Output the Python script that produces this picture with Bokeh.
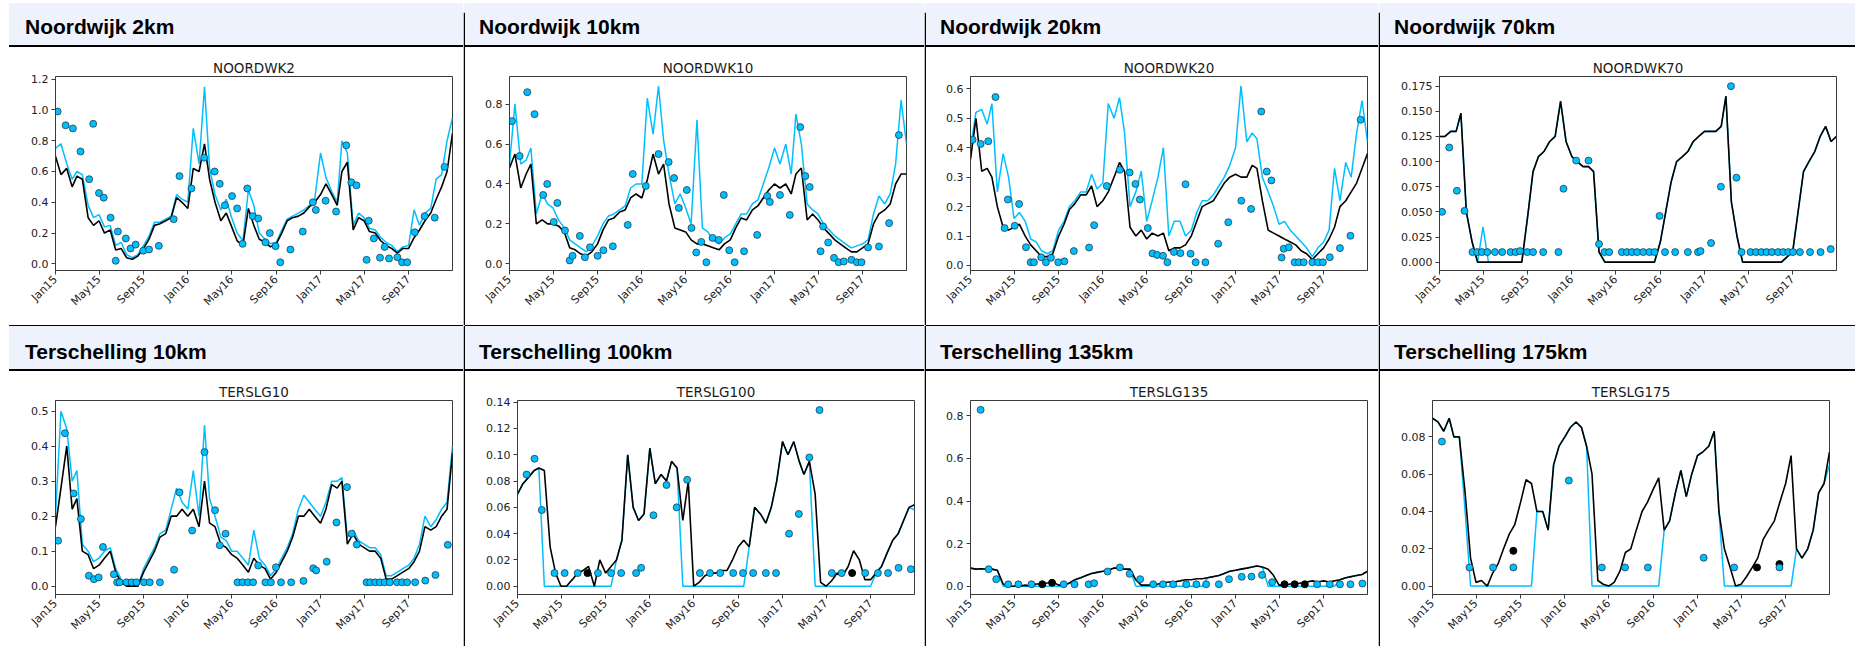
import math
import pandas as pd
from bokeh.plotting import figure
from bokeh.layouts import row, column
from bokeh.models import Range1d, FixedTicker, DatetimeTickFormatter, PrintfTickFormatter, Div
from bokeh.embed import file_html
from bokeh.resources import INLINE

BLUE = "#00BFFF"
BAND = "#EEF2FC"

# Sampling dates of the two model series: 1st and 16th of every month
HALF_MONTHS = [f"{y}-{m:02d}-{d:02d}" for y in (2015, 2016, 2017)
               for m in range(1, 13) for d in (1, 16)] + ["2017-12-31"]
MONTH_TICKS = ["2015-01-01", "2015-05-01", "2015-09-01", "2016-01-01", "2016-05-01",
               "2016-09-01", "2017-01-01", "2017-05-01", "2017-09-01"]
X_START, X_END = "2015-01-01", "2017-12-31"

STATIONS = ["NOORDWK2", "NOORDWK10", "NOORDWK20", "NOORDWK70",
            "TERSLG10", "TERSLG100", "TERSLG135", "TERSLG175"]
HEADINGS = ["Noordwijk 2km", "Noordwijk 10km", "Noordwijk 20km", "Noordwijk 70km",
            "Terschelling 10km", "Terschelling 100km", "Terschelling 135km", "Terschelling 175km"]

# ---------------- NOORDWK2 ----------------
nw2_black = [
    0.70, 0.58, 0.62, 0.50, 0.57, 0.55, 0.30, 0.25, 0.28, 0.20, 0.22, 0.09,
    0.10, 0.04, 0.03, 0.05, 0.10, 0.16, 0.25, 0.26, 0.28, 0.30, 0.43, 0.40,
    0.36, 0.62, 0.60, 0.78, 0.55, 0.40, 0.28, 0.33, 0.24, 0.15, 0.12, 0.36,
    0.25, 0.16, 0.14, 0.11, 0.13, 0.20, 0.28, 0.30, 0.31, 0.33, 0.37, 0.40,
    0.45, 0.52, 0.45, 0.38, 0.60, 0.66, 0.22, 0.30, 0.28, 0.21, 0.20, 0.15,
    0.12, 0.10, 0.07, 0.10, 0.10, 0.17, 0.22, 0.28, 0.33, 0.42, 0.50, 0.60,
    0.85]
nw2_blue = [
    0.75, 0.78, 0.65, 0.55, 0.60, 0.58, 0.38, 0.30, 0.32, 0.24, 0.25, 0.12,
    0.14, 0.06, 0.04, 0.06, 0.12, 0.18, 0.27, 0.27, 0.29, 0.31, 0.45, 0.42,
    0.40, 0.88, 0.65, 1.15, 0.62, 0.45, 0.35, 0.42, 0.30, 0.20, 0.15, 0.48,
    0.38, 0.20, 0.16, 0.13, 0.14, 0.22, 0.29, 0.31, 0.33, 0.35, 0.38, 0.42,
    0.72, 0.56, 0.47, 0.40, 0.80, 0.72, 0.25, 0.33, 0.30, 0.23, 0.22, 0.17,
    0.14, 0.12, 0.08, 0.11, 0.12, 0.35, 0.25, 0.33, 0.36, 0.55, 0.58, 0.80,
    0.95]
nw2_obs_dates = [
    "2015-01-07", "2015-01-29", "2015-02-18", "2015-03-11", "2015-04-04", "2015-04-15",
    "2015-05-01", "2015-05-14", "2015-06-02", "2015-06-16", "2015-06-22", "2015-07-14",
    "2015-07-27", "2015-08-10", "2015-08-31", "2015-09-16", "2015-10-13", "2015-11-23",
    "2015-12-09", "2016-01-11", "2016-02-15", "2016-03-15", "2016-03-29", "2016-04-12",
    "2016-05-02", "2016-05-16", "2016-05-31", "2016-06-13", "2016-06-28", "2016-07-13",
    "2016-08-02", "2016-08-14", "2016-08-30", "2016-09-12", "2016-10-10", "2016-11-13",
    "2016-12-11", "2016-12-19", "2017-01-15", "2017-02-13", "2017-03-13", "2017-03-27",
    "2017-04-10", "2017-05-08", "2017-05-14", "2017-05-28", "2017-06-14", "2017-06-27",
    "2017-07-09", "2017-08-01", "2017-08-14", "2017-08-28", "2017-09-18", "2017-10-15",
    "2017-11-12", "2017-12-09"]
nw2_obs = [
    0.99, 0.90, 0.88, 0.73, 0.55, 0.91, 0.46, 0.43, 0.30, 0.02, 0.21, 0.165,
    0.10, 0.125, 0.085, 0.093, 0.117, 0.29, 0.57, 0.49, 0.69, 0.60, 0.52, 0.38,
    0.44, 0.36, 0.13, 0.49, 0.31, 0.295, 0.14, 0.20, 0.115, 0.01, 0.093, 0.21,
    0.40, 0.35, 0.41, 0.34, 0.77, 0.53, 0.51, 0.026, 0.28, 0.165, 0.04, 0.11,
    0.035, 0.043, 0.01, 0.01, 0.205, 0.31, 0.30, 0.63]

# ---------------- NOORDWK10 ----------------
nw10_black = [
    0.48, 0.55, 0.38, 0.45, 0.50, 0.20, 0.22, 0.20, 0.20, 0.19, 0.16, 0.08,
    0.07, 0.05, 0.04, 0.06, 0.10, 0.17, 0.22, 0.23, 0.26, 0.27, 0.33, 0.35,
    0.33, 0.42, 0.55, 0.45, 0.50, 0.30, 0.18, 0.17, 0.16, 0.12, 0.10, 0.10,
    0.09, 0.08, 0.07, 0.10, 0.12, 0.18, 0.23, 0.22, 0.27, 0.29, 0.33, 0.37,
    0.40, 0.38, 0.40, 0.35, 0.45, 0.48, 0.22, 0.25, 0.22, 0.18, 0.15, 0.12,
    0.10, 0.08, 0.06, 0.06, 0.08, 0.10, 0.20, 0.25, 0.27, 0.30, 0.40, 0.45,
    0.45]
nw10_blue = [
    0.50, 0.80, 0.50, 0.52, 0.58, 0.25, 0.35, 0.30, 0.28, 0.22, 0.18, 0.12,
    0.10, 0.08, 0.06, 0.09, 0.14, 0.20, 0.24, 0.25, 0.27, 0.29, 0.38, 0.40,
    0.40, 0.83, 0.65, 0.89, 0.62, 0.45, 0.30, 0.35, 0.28, 0.20, 0.72, 0.18,
    0.16, 0.12, 0.10, 0.13, 0.15, 0.20, 0.25, 0.25, 0.30, 0.32, 0.40, 0.48,
    0.58, 0.50, 0.60, 0.45, 0.75, 0.60, 0.30, 0.27, 0.25, 0.20, 0.17, 0.14,
    0.12, 0.10, 0.08, 0.09, 0.10, 0.12, 0.25, 0.34, 0.30, 0.35, 0.50, 0.82,
    0.60]
nw10_obs_dates = [
    "2015-01-08", "2015-01-29", "2015-02-19", "2015-03-11", "2015-04-04", "2015-04-15",
    "2015-05-03", "2015-05-13", "2015-06-03", "2015-06-16", "2015-06-24", "2015-07-14",
    "2015-07-28", "2015-08-11", "2015-09-01", "2015-09-17", "2015-10-13", "2015-11-23",
    "2015-12-07", "2016-01-12", "2016-02-16", "2016-03-15", "2016-03-30", "2016-04-12",
    "2016-05-04", "2016-05-17", "2016-05-30", "2016-06-13", "2016-06-27", "2016-07-14",
    "2016-07-31", "2016-08-14", "2016-08-29", "2016-09-13", "2016-10-09", "2016-11-14",
    "2016-12-12", "2016-12-19", "2017-01-16", "2017-02-12", "2017-03-13", "2017-03-27",
    "2017-04-08", "2017-05-08", "2017-05-15", "2017-05-29", "2017-06-14", "2017-06-27",
    "2017-07-11", "2017-08-01", "2017-08-16", "2017-08-29", "2017-09-16", "2017-10-16",
    "2017-11-13", "2017-12-10"]
nw10_obs = [
    0.715, 0.54, 0.86, 0.75, 0.345, 0.40, 0.21, 0.305, 0.167, 0.017, 0.04, 0.14,
    0.033, 0.083, 0.04, 0.068, 0.088, 0.195, 0.45, 0.39, 0.55, 0.51, 0.43, 0.28,
    0.37, 0.18, 0.057, 0.11, 0.008, 0.13, 0.12, 0.345, 0.068, 0.008, 0.063, 0.145,
    0.34, 0.31, 0.345, 0.245, 0.685, 0.44, 0.385, 0.063, 0.187, 0.107, 0.03, 0.008,
    0.012, 0.02, 0.008, 0.008, 0.082, 0.087, 0.204, 0.645]

# ---------------- NOORDWK20 ----------------
nw20_black = [
    0.36, 0.50, 0.32, 0.33, 0.30, 0.20, 0.13, 0.12, 0.13, 0.14, 0.10, 0.07,
    0.05, 0.03, 0.03, 0.04, 0.10, 0.14, 0.19, 0.21, 0.24, 0.24, 0.27, 0.20,
    0.22, 0.25, 0.30, 0.35, 0.32, 0.13, 0.10, 0.12, 0.09, 0.11, 0.10, 0.11,
    0.05, 0.06, 0.06, 0.07, 0.10, 0.15, 0.20, 0.21, 0.22, 0.25, 0.28, 0.30,
    0.31, 0.30, 0.30, 0.34, 0.33, 0.22, 0.12, 0.11, 0.10, 0.09, 0.08, 0.07,
    0.05, 0.04, 0.02, 0.04, 0.06, 0.09, 0.13, 0.20, 0.22, 0.25, 0.28, 0.33,
    0.38]
nw20_blue = [
    0.40, 0.52, 0.53, 0.48, 0.55, 0.25, 0.38, 0.30, 0.16, 0.18, 0.15, 0.09,
    0.08, 0.05, 0.04, 0.05, 0.12, 0.15, 0.20, 0.22, 0.25, 0.25, 0.31, 0.26,
    0.28, 0.55, 0.50, 0.57, 0.45, 0.20, 0.25, 0.32, 0.15, 0.22, 0.30, 0.40,
    0.10, 0.15, 0.15, 0.10, 0.12, 0.18, 0.22, 0.22, 0.24, 0.27, 0.30, 0.34,
    0.40, 0.61, 0.42, 0.45, 0.43, 0.30, 0.25, 0.20, 0.14, 0.15, 0.12, 0.10,
    0.08, 0.06, 0.03, 0.06, 0.08, 0.12, 0.33, 0.22, 0.35, 0.30, 0.45, 0.56,
    0.42]
nw20_obs_dates = [
    "2015-01-07", "2015-01-29", "2015-02-19", "2015-03-11", "2015-04-05", "2015-04-14",
    "2015-05-03", "2015-05-15", "2015-06-03", "2015-06-16", "2015-06-25", "2015-07-15",
    "2015-07-28", "2015-08-11", "2015-08-31", "2015-09-17", "2015-10-13", "2015-11-24",
    "2015-12-08", "2016-01-12", "2016-02-17", "2016-03-15", "2016-03-31", "2016-04-12",
    "2016-05-04", "2016-05-17", "2016-05-30", "2016-06-15", "2016-06-27", "2016-07-15",
    "2016-08-02", "2016-08-16", "2016-08-30", "2016-09-13", "2016-10-10", "2016-11-14",
    "2016-12-12", "2017-01-17", "2017-02-13", "2017-03-13", "2017-03-28", "2017-04-10",
    "2017-05-08", "2017-05-14", "2017-05-28", "2017-06-13", "2017-06-25", "2017-07-08",
    "2017-08-01", "2017-08-17", "2017-08-30", "2017-09-18", "2017-10-16", "2017-11-14",
    "2017-12-12"]
nw20_obs = [
    0.427, 0.413, 0.422, 0.572, 0.127, 0.224, 0.135, 0.209, 0.062, 0.011, 0.011, 0.028,
    0.011, 0.026, 0.011, 0.014, 0.049, 0.061, 0.137, 0.27, 0.325, 0.316, 0.277, 0.224,
    0.127, 0.041, 0.036, 0.033, 0.011, 0.046, 0.042, 0.276, 0.04, 0.011, 0.011, 0.074,
    0.147, 0.22, 0.192, 0.523, 0.319, 0.289, 0.027, 0.057, 0.062, 0.011, 0.011, 0.011,
    0.011, 0.011, 0.011, 0.028, 0.059, 0.101, 0.495]

# ---------------- NOORDWK70 ----------------
nw70_black = [
    0.125, 0.125, 0.130, 0.130, 0.148, 0.050, 0.020, 0.000, 0.000, 0.000, 0.000, 0.000,
    0.000, 0.000, 0.000, 0.000, 0.045, 0.090, 0.105, 0.110, 0.120, 0.125, 0.160, 0.120,
    0.105, 0.100, 0.095, 0.095, 0.090, 0.010, 0.000, 0.000, 0.000, 0.000, 0.000, 0.000,
    0.000, 0.000, 0.000, 0.000, 0.020, 0.050, 0.080, 0.100, 0.105, 0.110, 0.120, 0.125,
    0.130, 0.130, 0.130, 0.135, 0.165, 0.060, 0.025, 0.000, 0.000, 0.000, 0.000, 0.000,
    0.000, 0.000, 0.000, 0.005, 0.010, 0.050, 0.090, 0.100, 0.110, 0.125, 0.135, 0.120,
    0.125]
nw70_blue = [
    0.125, 0.125, 0.130, 0.130, 0.148, 0.050, 0.020, 0.000, 0.035, 0.000, 0.000, 0.000,
    0.000, 0.000, 0.000, 0.000, 0.045, 0.090, 0.105, 0.110, 0.120, 0.125, 0.160, 0.120,
    0.105, 0.100, 0.095, 0.095, 0.090, 0.010, 0.000, 0.000, 0.000, 0.000, 0.000, 0.000,
    0.000, 0.000, 0.000, 0.000, 0.020, 0.050, 0.080, 0.100, 0.105, 0.110, 0.120, 0.125,
    0.130, 0.130, 0.130, 0.135, 0.165, 0.060, 0.025, 0.000, 0.000, 0.000, 0.000, 0.000,
    0.000, 0.000, 0.000, 0.005, 0.010, 0.050, 0.090, 0.100, 0.110, 0.125, 0.135, 0.120,
    0.125]
nw70_obs_dates = [
    "2015-01-08", "2015-01-28", "2015-02-18", "2015-03-11", "2015-04-02", "2015-04-15",
    "2015-04-28", "2015-05-13", "2015-06-03", "2015-06-23", "2015-07-16", "2015-07-30",
    "2015-08-11", "2015-08-31", "2015-09-16", "2015-10-14", "2015-11-25", "2015-12-09",
    "2016-01-13", "2016-02-16", "2016-03-16", "2016-03-31", "2016-04-13", "2016-05-18",
    "2016-06-01", "2016-06-15", "2016-06-29", "2016-07-16", "2016-08-02", "2016-08-16",
    "2016-08-30", "2016-09-14", "2016-10-12", "2016-11-16", "2016-12-14", "2016-12-21",
    "2017-01-19", "2017-02-15", "2017-03-15", "2017-03-30", "2017-04-13", "2017-05-08",
    "2017-05-23", "2017-06-07", "2017-06-21", "2017-07-06", "2017-07-23", "2017-08-06",
    "2017-08-20", "2017-09-02", "2017-09-21", "2017-10-19", "2017-11-17", "2017-12-15"]
nw70_obs = [
    0.050, 0.114, 0.071, 0.051, 0.010, 0.010, 0.010, 0.010, 0.010, 0.010, 0.010, 0.010,
    0.011, 0.010, 0.010, 0.010, 0.010, 0.073, 0.101, 0.101, 0.018, 0.010, 0.010, 0.010,
    0.010, 0.010, 0.010, 0.010, 0.010, 0.010, 0.046, 0.010, 0.010, 0.010, 0.010, 0.011,
    0.019, 0.075, 0.175, 0.084, 0.010, 0.010, 0.010, 0.010, 0.010, 0.010, 0.010, 0.010,
    0.010, 0.010, 0.010, 0.010, 0.010, 0.013]

# ---------------- TERSLG10 ----------------
t10_black = [
    0.17, 0.28, 0.40, 0.22, 0.25, 0.10, 0.09, 0.05, 0.06, 0.08, 0.10, 0.04,
    0.01, 0.00, 0.00, 0.00, 0.04, 0.07, 0.10, 0.14, 0.15, 0.20, 0.20, 0.22,
    0.20, 0.22, 0.17, 0.30, 0.18, 0.17, 0.12, 0.11, 0.09, 0.08, 0.06, 0.04,
    0.08, 0.06, 0.05, 0.02, 0.04, 0.07, 0.10, 0.14, 0.20, 0.20, 0.22, 0.20,
    0.18, 0.22, 0.29, 0.28, 0.30, 0.12, 0.15, 0.12, 0.11, 0.10, 0.10, 0.08,
    0.02, 0.02, 0.03, 0.04, 0.05, 0.07, 0.10, 0.17, 0.16, 0.17, 0.20, 0.22,
    0.38]
t10_blue = [
    0.20, 0.50, 0.45, 0.30, 0.33, 0.12, 0.10, 0.07, 0.08, 0.10, 0.11, 0.05,
    0.02, 0.00, 0.00, 0.00, 0.05, 0.08, 0.11, 0.15, 0.16, 0.22, 0.28, 0.24,
    0.22, 0.33, 0.20, 0.46, 0.25, 0.20, 0.14, 0.13, 0.10, 0.10, 0.08, 0.06,
    0.16, 0.08, 0.06, 0.03, 0.05, 0.08, 0.11, 0.15, 0.22, 0.26, 0.24, 0.22,
    0.20, 0.24, 0.30, 0.30, 0.31, 0.14, 0.16, 0.13, 0.12, 0.11, 0.11, 0.09,
    0.03, 0.03, 0.04, 0.05, 0.06, 0.08, 0.12, 0.20, 0.17, 0.19, 0.22, 0.24,
    0.40]
t10_obs_dates = [
    "2015-01-08", "2015-01-27", "2015-02-20", "2015-03-12", "2015-04-03", "2015-04-17",
    "2015-04-30", "2015-05-12", "2015-06-11", "2015-06-20", "2015-06-27", "2015-07-16",
    "2015-07-30", "2015-08-12", "2015-09-02", "2015-09-18", "2015-10-16", "2015-11-24",
    "2015-12-09", "2016-01-13", "2016-02-16", "2016-03-16", "2016-03-29", "2016-04-14",
    "2016-05-17", "2016-05-31", "2016-06-15", "2016-06-29", "2016-07-13", "2016-08-02",
    "2016-08-17", "2016-08-31", "2016-09-14", "2016-10-12", "2016-11-15", "2016-12-12",
    "2016-12-20", "2017-01-18", "2017-02-14", "2017-03-15", "2017-03-28", "2017-04-11",
    "2017-05-08", "2017-05-18", "2017-06-01", "2017-06-14", "2017-06-27", "2017-07-11",
    "2017-07-31", "2017-08-14", "2017-08-28", "2017-09-19", "2017-10-17", "2017-11-14",
    "2017-12-18"]
t10_obs = [
    0.13, 0.437, 0.265, 0.192, 0.03, 0.02, 0.025, 0.112, 0.034, 0.011, 0.011, 0.011,
    0.011, 0.011, 0.011, 0.011, 0.011, 0.047, 0.268, 0.159, 0.383, 0.217, 0.117, 0.15,
    0.011, 0.011, 0.011, 0.011, 0.059, 0.011, 0.011, 0.054, 0.011, 0.011, 0.015, 0.051,
    0.045, 0.07, 0.182, 0.283, 0.15, 0.119, 0.011, 0.011, 0.011, 0.011, 0.011, 0.011,
    0.011, 0.011, 0.011, 0.011, 0.016, 0.032, 0.118]

# ---------------- TERSLG100 ----------------
t100_black = [
    0.070, 0.078, 0.083, 0.088, 0.090, 0.088, 0.030, 0.010, 0.000, 0.000, 0.005, 0.010,
    0.012, 0.015, 0.000, 0.020, 0.010, 0.015, 0.020, 0.035, 0.100, 0.060, 0.050, 0.055,
    0.105, 0.078, 0.085, 0.080, 0.095, 0.090, 0.050, 0.080, 0.000, 0.003, 0.008, 0.010,
    0.010, 0.012, 0.012, 0.020, 0.030, 0.035, 0.030, 0.060, 0.055, 0.048, 0.060, 0.080,
    0.110, 0.100, 0.110, 0.095, 0.085, 0.095, 0.070, 0.003, 0.000, 0.004, 0.010, 0.008,
    0.015, 0.027, 0.020, 0.005, 0.005, 0.010, 0.015, 0.025, 0.035, 0.040, 0.050, 0.060,
    0.062]
t100_blue = [
    0.070, 0.078, 0.083, 0.088, 0.090, 0.000, 0.000, 0.000, 0.000, 0.000, 0.000, 0.000,
    0.000, 0.000, 0.000, 0.000, 0.000, 0.000, 0.020, 0.035, 0.100, 0.060, 0.050, 0.055,
    0.105, 0.078, 0.085, 0.080, 0.095, 0.090, 0.000, 0.000, 0.000, 0.000, 0.000, 0.000,
    0.000, 0.000, 0.000, 0.000, 0.000, 0.000, 0.030, 0.060, 0.055, 0.048, 0.060, 0.080,
    0.110, 0.100, 0.110, 0.095, 0.085, 0.095, 0.000, 0.000, 0.000, 0.000, 0.000, 0.000,
    0.000, 0.000, 0.000, 0.000, 0.000, 0.010, 0.015, 0.025, 0.035, 0.040, 0.050, 0.060,
    0.058]
t100_obs_dates = [
    "2015-01-26", "2015-02-17", "2015-03-09", "2015-04-13", "2015-05-11", "2015-06-16",
    "2015-08-11", "2015-09-16", "2015-10-14", "2015-11-24", "2015-12-08", "2016-01-11",
    "2016-02-16", "2016-03-15", "2016-04-13", "2016-05-18", "2016-06-15", "2016-07-13",
    "2016-08-18", "2016-09-14", "2016-10-12", "2016-11-16", "2016-12-14", "2017-01-19",
    "2017-02-15", "2017-03-16", "2017-04-13", "2017-05-17", "2017-06-13", "2017-08-17",
    "2017-09-21", "2017-10-19", "2017-11-17", "2017-12-21"]
t100_obs = [
    0.085, 0.097, 0.058, 0.010, 0.010, 0.010, 0.010, 0.010, 0.010, 0.010, 0.014, 0.054,
    0.077, 0.060, 0.081, 0.010, 0.010, 0.010, 0.010, 0.010, 0.010, 0.010, 0.010, 0.040,
    0.055, 0.098, 0.134, 0.010, 0.010, 0.010, 0.010, 0.010, 0.014, 0.013]
t100_dark_dates = ["2015-07-13", "2017-07-12"]
t100_dark = [0.010, 0.010]

# ---------------- TERSLG135 ----------------
t135_black = [
    0.085, 0.080, 0.082, 0.078, 0.080, 0.075, 0.010, 0.000, 0.000, 0.000, 0.005, 0.000,
    0.010, 0.010, 0.015, 0.020, 0.005, 0.005, 0.015, 0.030, 0.040, 0.050, 0.060, 0.065,
    0.070, 0.075, 0.085, 0.085, 0.080, 0.080, 0.030, 0.005, 0.005, 0.005, 0.010, 0.015,
    0.020, 0.020, 0.025, 0.030, 0.030, 0.035, 0.035, 0.040, 0.045, 0.050, 0.060, 0.070,
    0.075, 0.080, 0.085, 0.090, 0.095, 0.090, 0.080, 0.050, 0.005, 0.005, 0.010, 0.010,
    0.015, 0.020, 0.025, 0.020, 0.025, 0.020, 0.025, 0.030, 0.040, 0.045, 0.050, 0.055,
    0.070]
t135_blue = [
    0.085, 0.080, 0.082, 0.078, 0.080, 0.075, 0.000, 0.000, 0.000, 0.000, 0.000, 0.000,
    0.000, 0.000, 0.000, 0.000, 0.000, 0.000, 0.015, 0.030, 0.040, 0.050, 0.060, 0.065,
    0.070, 0.075, 0.085, 0.085, 0.080, 0.080, 0.000, 0.000, 0.000, 0.000, 0.000, 0.000,
    0.000, 0.000, 0.000, 0.000, 0.000, 0.000, 0.000, 0.040, 0.045, 0.050, 0.060, 0.070,
    0.075, 0.080, 0.085, 0.090, 0.095, 0.090, 0.000, 0.000, 0.000, 0.000, 0.000, 0.000,
    0.000, 0.000, 0.000, 0.000, 0.000, 0.000, 0.000, 0.030, 0.040, 0.045, 0.050, 0.055,
    0.070]
t135_obs_dates = [
    "2015-01-29", "2015-02-20", "2015-03-13", "2015-04-15", "2015-05-13", "2015-06-18",
    "2015-09-15", "2015-10-15", "2015-11-23", "2015-12-08", "2016-01-14", "2016-02-17",
    "2016-03-15", "2016-04-13", "2016-05-19", "2016-06-15", "2016-07-13", "2016-08-18",
    "2016-09-15", "2016-10-12", "2016-11-16", "2016-12-14", "2017-01-18", "2017-02-14",
    "2017-03-15", "2017-04-12", "2017-08-14", "2017-09-18", "2017-10-16", "2017-11-14",
    "2017-12-17"]
t135_obs = [
    0.828, 0.080, 0.033, 0.009, 0.009, 0.009, 0.009, 0.009, 0.009, 0.014, 0.069, 0.088,
    0.058, 0.033, 0.009, 0.009, 0.009, 0.009, 0.009, 0.009, 0.009, 0.033, 0.044, 0.045,
    0.053, 0.019, 0.009, 0.009, 0.009, 0.009, 0.0125]
t135_dark_dates = ["2015-07-18", "2015-08-14", "2017-05-16", "2017-06-13", "2017-07-11"]
t135_dark = [0.009, 0.016, 0.009, 0.009, 0.009]

# ---------------- TERSLG175 ----------------
t175_black = [
    0.090, 0.088, 0.083, 0.090, 0.080, 0.080, 0.050, 0.015, 0.002, 0.003, 0.000, 0.007,
    0.012, 0.020, 0.028, 0.033, 0.045, 0.057, 0.055, 0.040, 0.040, 0.030, 0.065, 0.075,
    0.080, 0.085, 0.088, 0.085, 0.075, 0.060, 0.003, 0.001, 0.000, 0.002, 0.008, 0.018,
    0.020, 0.030, 0.040, 0.045, 0.052, 0.058, 0.030, 0.035, 0.050, 0.062, 0.048, 0.060,
    0.070, 0.072, 0.075, 0.083, 0.040, 0.020, 0.010, 0.000, 0.001, 0.005, 0.010, 0.015,
    0.025, 0.030, 0.035, 0.045, 0.055, 0.070, 0.020, 0.015, 0.020, 0.030, 0.050, 0.055,
    0.072]
t175_blue = [
    0.090, 0.088, 0.083, 0.090, 0.080, 0.080, 0.040, 0.000, 0.000, 0.000, 0.000, 0.000,
    0.000, 0.000, 0.000, 0.000, 0.000, 0.000, 0.000, 0.040, 0.040, 0.030, 0.065, 0.075,
    0.080, 0.085, 0.088, 0.085, 0.075, 0.000, 0.000, 0.000, 0.000, 0.000, 0.000, 0.000,
    0.000, 0.000, 0.000, 0.000, 0.000, 0.000, 0.030, 0.035, 0.050, 0.062, 0.048, 0.060,
    0.070, 0.072, 0.075, 0.083, 0.040, 0.000, 0.000, 0.000, 0.000, 0.000, 0.000, 0.000,
    0.000, 0.000, 0.000, 0.000, 0.000, 0.000, 0.020, 0.015, 0.020, 0.030, 0.050, 0.055,
    0.065]
t175_obs_dates = [
    "2015-01-27", "2015-04-13", "2015-06-17", "2015-08-12", "2016-01-12", "2016-04-12",
    "2016-06-15", "2016-08-17", "2017-01-18", "2017-04-12", "2017-08-15"]
t175_obs = [0.0775, 0.010, 0.010, 0.010, 0.0566, 0.010, 0.010, 0.010, 0.0152, 0.010, 0.010]
t175_dark_dates = ["2015-08-12", "2017-06-14", "2017-08-15"]
t175_dark = [0.0189, 0.010, 0.0118]

# Y axis ticks per station
nw2_yticks = [0.0, 0.2, 0.4, 0.6, 0.8, 1.0, 1.2]
nw10_yticks = [0.0, 0.2, 0.4, 0.6, 0.8]
nw20_yticks = [0.0, 0.1, 0.2, 0.3, 0.4, 0.5, 0.6]
nw70_yticks = [0.0, 0.025, 0.05, 0.075, 0.1, 0.125, 0.15, 0.175]
t10_yticks = [0.0, 0.1, 0.2, 0.3, 0.4, 0.5]
t100_yticks = [0.0, 0.02, 0.04, 0.06, 0.08, 0.10, 0.12, 0.14]
t135_yticks = [0.0, 0.2, 0.4, 0.6, 0.8]
t175_yticks = [0.0, 0.02, 0.04, 0.06, 0.08]


def ms(d):
    return pd.Timestamp(d).value / 1e6


def dt(dates):
    return pd.to_datetime(dates).to_numpy()


def heading(text, w, h, x0, text_x, band_top, band_h, top_rule):
    """Light blue caption strip with a heavy rule underneath."""
    parts = [f'<div style="position:relative;width:{w}px;height:{h}px;overflow:hidden;'
             f'background:#ffffff;margin:0;padding:0;">']
    if top_rule:
        parts.append(f'<div style="position:absolute;left:{x0}px;top:0px;width:{w - x0}px;'
                     f'height:1px;background:#000000;"></div>')
    parts.append(f'<div style="position:absolute;left:{x0}px;top:{band_top}px;width:{w - x0}px;'
                 f'height:{band_h}px;background:{BAND};"></div>')
    parts.append(f'<div style="position:absolute;left:{x0}px;top:{band_top + band_h}px;'
                 f'width:{w - x0}px;height:2px;background:#000000;"></div>')
    parts.append(f'<div style="position:absolute;left:{text_x}px;top:15.5px;white-space:nowrap;'
                 f"font-family:'Liberation Sans',Arial,sans-serif;font-weight:bold;"
                 f'font-size:21px;line-height:21px;color:#000000;">{text}</div>')
    parts.append('</div>')
    return Div(text="".join(parts), width=w, height=h, styles={"margin": "0", "padding": "0"})


def divider(h, top_white, top_band):
    p = figure(width=2, height=h, x_range=Range1d(0, 2), y_range=Range1d(0, h),
               output_backend="svg", toolbar_location=None, min_border=0,
               x_axis_location=None, y_axis_location=None)
    p.grid.visible = False
    p.outline_line_color = None
    p.background_fill_color = "white"
    p.border_fill_color = "white"
    p.quad(left=[0], right=[2], bottom=[0], top=[h - top_white - top_band],
           fill_color="black", line_color=None)
    if top_band:
        p.quad(left=[0], right=[2], bottom=[h - top_white - top_band], top=[h - top_white],
               fill_color=BAND, line_color=None)
    return p


def station_chart(title, w, h, borders, yr, yticks, yfmt, black, blue,
                  obs_d, obs_v, dark_d=None, dark_v=None):
    left, right, top, bottom = borders
    p = figure(width=w, height=h, x_axis_type="datetime",
               x_range=Range1d(ms(X_START), ms(X_END)), y_range=Range1d(*yr),
               output_backend="svg", toolbar_location=None,
               min_border_left=left, min_border_right=right,
               min_border_top=top, min_border_bottom=bottom)
    p.title.text = title
    p.title.align = "center"
    p.title.text_font = "DejaVu Sans"
    p.title.text_font_size = "13.5px"
    p.title.text_font_style = "normal"
    p.title.text_color = "#1a1a1a"
    p.title.standoff = 2
    p.grid.visible = False
    p.outline_line_color = "#3a3a3a"
    p.background_fill_color = "white"
    p.border_fill_color = "white"

    t = dt(HALF_MONTHS)
    p.line(t, blue, line_color=BLUE, line_width=1.5)
    p.line(t, black, line_color="black", line_width=1.6)
    if dark_d:
        p.scatter(dt(dark_d), dark_v, size=7, fill_color="black", line_color="black")
    p.scatter(dt(obs_d), obs_v, size=7, fill_color=BLUE, line_color="#1c2a33", line_width=0.7)

    p.xaxis.ticker = FixedTicker(ticks=[ms(d) for d in MONTH_TICKS])
    p.xaxis.formatter = DatetimeTickFormatter(days="%b%y", months="%b%y", years="%b%y")
    p.xaxis.major_label_orientation = math.pi / 4
    p.yaxis.ticker = FixedTicker(ticks=yticks)
    p.yaxis.formatter = PrintfTickFormatter(format=yfmt)
    for ax in p.axis:
        ax.axis_line_color = "#3a3a3a"
        ax.major_tick_line_color = "#3a3a3a"
        ax.major_tick_out = 4
        ax.major_tick_in = 0
        ax.minor_tick_line_color = None
        ax.major_label_text_font = "DejaVu Sans"
        ax.major_label_text_font_size = "11px"
        ax.major_label_text_color = "#222222"
        ax.major_label_standoff = 3
    return p


COL_W = [463, 459, 452, 475]

charts_top = [
    station_chart(STATIONS[0], 463, 278, (55, 11, 29, 55), (-0.0433, 1.2173), nw2_yticks, "%.1f",
                  nw2_black, nw2_blue, nw2_obs_dates, nw2_obs),
    station_chart(STATIONS[1], 459, 278, (44, 18, 29, 55), (-0.0334, 0.9386), nw10_yticks, "%.1f",
                  nw10_black, nw10_blue, nw10_obs_dates, nw10_obs),
    station_chart(STATIONS[2], 452, 278, (44, 11, 29, 55), (-0.017, 0.6419), nw20_yticks, "%.1f",
                  nw20_black, nw20_blue, nw20_obs_dates, nw20_obs),
    station_chart(STATIONS[3], 475, 278, (59, 19, 29, 55), (-0.0083, 0.1846), nw70_yticks, "%.3f",
                  nw70_black, nw70_blue, nw70_obs_dates, nw70_obs),
]
charts_bottom = [
    station_chart(STATIONS[4], 463, 275, (55, 11, 29, 52), (-0.0238, 0.5305), t10_yticks, "%.1f",
                  t10_black, t10_blue, t10_obs_dates, t10_obs),
    station_chart(STATIONS[5], 459, 275, (52, 10, 29, 52), (-0.0063, 0.1413), t100_yticks, "%.2f",
                  t100_black, t100_blue, t100_obs_dates, t100_obs, t100_dark_dates, t100_dark),
    station_chart(STATIONS[6], 452, 275, (44, 11, 29, 52), (-0.039, 0.872), t135_yticks, "%.1f",
                  t135_black, t135_blue, t135_obs_dates, t135_obs, t135_dark_dates, t135_dark),
    station_chart(STATIONS[7], 475, 275, (52, 26, 29, 52), (-0.0045, 0.0995), t175_yticks, "%.2f",
                  t175_black, t175_blue, t175_obs_dates, t175_obs, t175_dark_dates, t175_dark),
]

top_cells, bottom_cells = [], []
for i in range(4):
    x0 = 9 if i == 0 else 0
    tx = 25 if i == 0 else 14
    top_cells.append(column(heading(HEADINGS[i], COL_W[i], 47, x0, tx, 3, 42, False),
                            charts_top[i], spacing=0))
    bottom_cells.append(column(heading(HEADINGS[i + 4], COL_W[i], 46, x0, tx, 1, 43, True),
                               charts_bottom[i], spacing=0))

top_row = row(top_cells[0], divider(325, 3, 9), top_cells[1], divider(325, 3, 9),
              top_cells[2], divider(325, 3, 9), top_cells[3], spacing=0)
bottom_row = row(bottom_cells[0], divider(321, 0, 0), bottom_cells[1], divider(321, 0, 0),
                 bottom_cells[2], divider(321, 0, 0), bottom_cells[3], spacing=0)
page = column(top_row, bottom_row, spacing=0)

open("out.html", "w").write(file_html(page, INLINE))
